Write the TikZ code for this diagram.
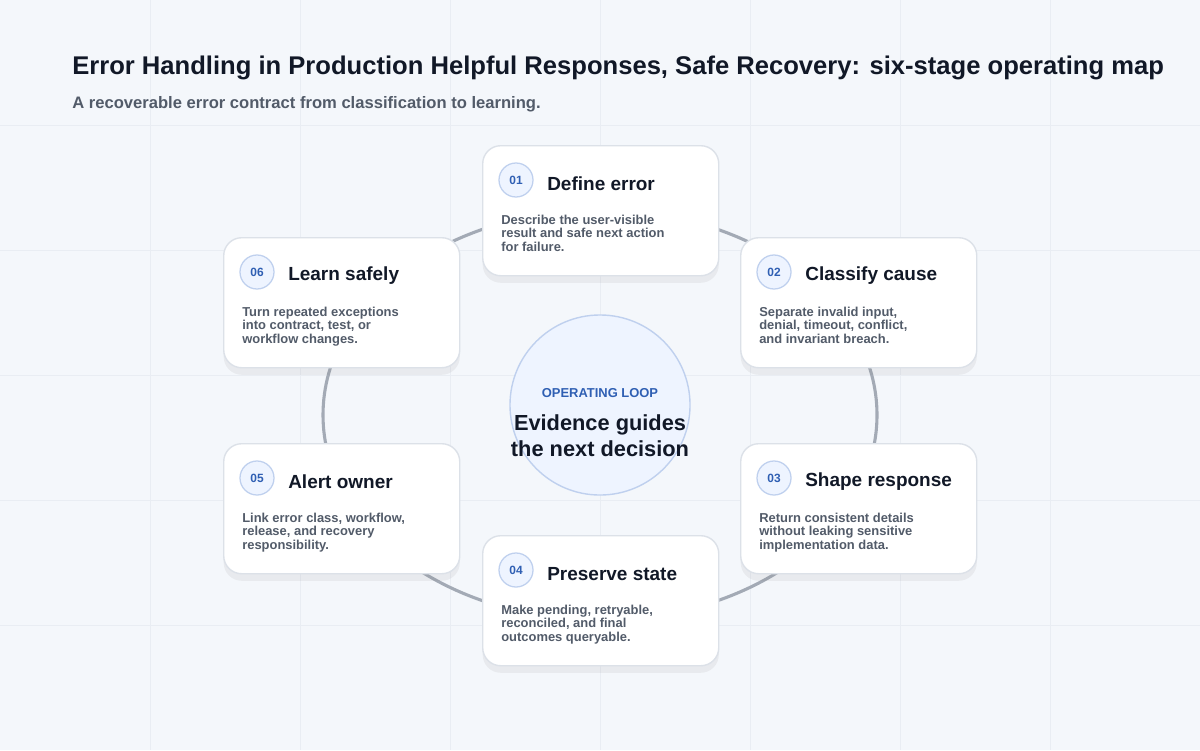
\documentclass[tikz,border=0pt]{standalone}
\usepackage{fontspec}
\setmainfont{Liberation Sans}
\usetikzlibrary{positioning,calc,shadows}
\definecolor{bgc}{HTML}{F4F7FB}
\definecolor{gridc}{HTML}{E9EDF3}
\definecolor{ink}{HTML}{111827}
\definecolor{muted}{HTML}{525B69}
\definecolor{ringc}{HTML}{A3AAB5}
\definecolor{badgef}{HTML}{EEF4FF}
\definecolor{badged}{HTML}{BFD0EE}
\definecolor{accent}{HTML}{2F5FB3}
\definecolor{cardd}{HTML}{DCE1E8}
\tikzset{
  card/.style={draw=cardd, line width=1pt, fill=white, rounded corners=0.45cm,
    minimum width=5.9cm, minimum height=3.25cm, anchor=north west,
    drop shadow={shadow xshift=0pt, shadow yshift=-5pt, opacity=0.10, fill=gray}},
  badge/.style={circle, draw=badged, fill=badgef, line width=0.9pt, minimum size=0.85cm,
    inner sep=0pt, text=accent, font=\bfseries\fontsize{8.5}{10}\selectfont},
  ctitle/.style={anchor=west, text=ink, font=\bfseries\fontsize{13.5}{16}\selectfont, inner sep=0pt},
  cdesc/.style={anchor=north west, align=left, text=muted, inner sep=0pt,
    font=\bfseries\fontsize{9.2}{9.4}\selectfont}
}
\begin{document}
\begin{tikzpicture}[x=0.025cm,y=-0.025cm]
  \fill[bgc] (0,0) rectangle (1200,750);
  \useasboundingbox (0,0) rectangle (1200,750);
  \foreach \gx in {150,300,...,1050} \draw[gridc, line width=0.6pt] (\gx,0) -- (\gx,750);
  \foreach \gy in {125,250,...,625} \draw[gridc, line width=0.6pt] (0,\gy) -- (1200,\gy);
  % heading
  \node[anchor=west, text=ink, inner sep=0pt, font=\bfseries\fontsize{18.2}{21}\selectfont]
    (title) at (72,68) {Error Handling in Production Helpful Responses, Safe Recovery: six-stage operating map};
  \node[anchor=west, text=muted, inner sep=0pt, font=\bfseries\fontsize{11.8}{14}\selectfont]
    (subtitle) at (72,104) {A recoverable error contract from classification to learning.};
  % loop
  \draw[ringc, line width=2.2pt] (600,415) ellipse [x radius=277, y radius=205];
  \node[circle, draw=badged, fill=badgef, line width=1pt, minimum size=4.5cm] (hub) at (600,405) {};
  \node[text=accent, font=\bfseries\fontsize{9.2}{11}\selectfont] (hubtag) at (600,393) {OPERATING LOOP};
  \node[text=ink, align=center, font=\bfseries\fontsize{15.5}{18.5}\selectfont] (hubtext) at (600,436)
    {Evidence guides\\the next decision};
  % cards
  \foreach \id/\cx/\cy/\num/\ttl/\dsc in {
    c1/482/145/01/Define error/{Describe the user-visible\\result and safe next action\\for failure.},
    c2/740/237/02/Classify cause/{Separate invalid input,\\denial, timeout, conflict,\\and invariant breach.},
    c3/740/443/03/Shape response/{Return consistent details\\without leaking sensitive\\implementation data.},
    c4/482/535/04/Preserve state/{Make pending, retryable,\\reconciled, and final\\outcomes queryable.},
    c5/223/443/05/Alert owner/{Link error class, workflow,\\release, and recovery\\responsibility.},
    c6/223/237/06/Learn safely/{Turn repeated exceptions\\into contract, test, or\\workflow changes.}}{
    \node[card] (\id) at (\cx,\cy) {};
    \node[badge] (\id-num) at ($(\id.north west)+(34,35)$) {\num};
    \node[ctitle] (\id-title) at ($(\id.north west)+(65,39)$) {\ttl};
    \node[cdesc] (\id-text) at ($(\id.north west)+(19,70)$) {\dsc};
  }
\end{tikzpicture}
\end{document}
